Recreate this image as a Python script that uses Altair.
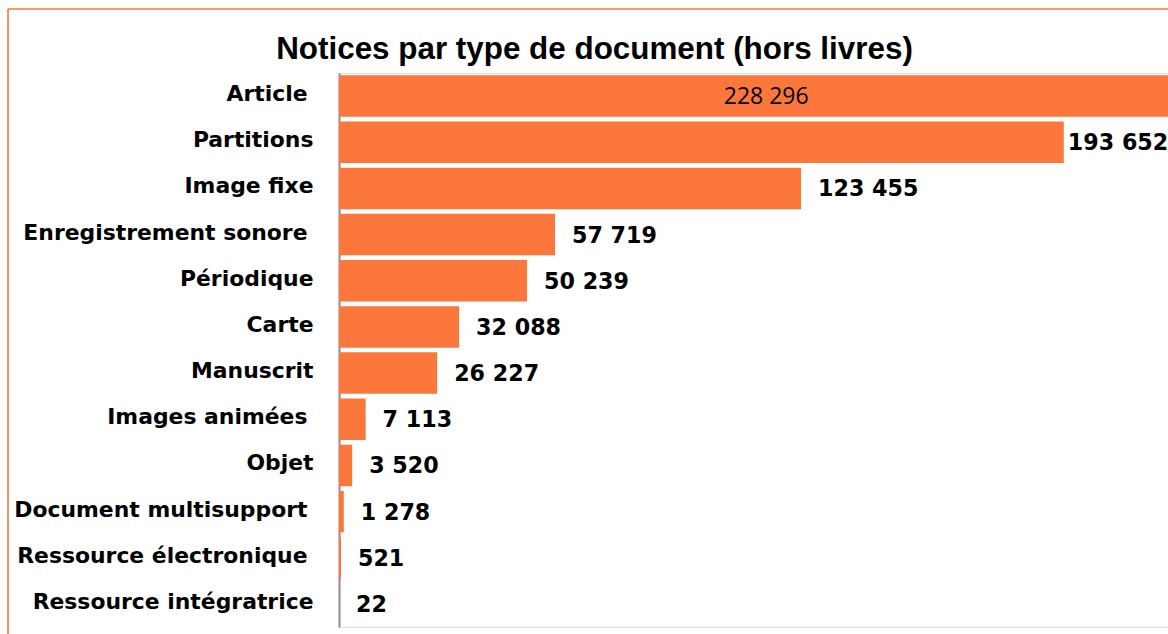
import altair as alt
import pandas as pd
import json

categories = [
    "Article",
    "Partitions",
    "Image fixe",
    "Enregistrement sonore",
    "Périodique",
    "Carte",
    "Manuscrit",
    "Images animées",
    "Objet",
    "Document multisupport",
    "Ressource électronique",
    "Ressource intégratrice",
]
values = [228296, 193652, 123455, 57719, 50239, 32088, 26227, 7113, 3520, 1278, 521, 22]
inside = [True, False, False, False, False, False, False, False, False, False, False, False]
# category labels that carry a trailing space in the source chart
trailing_space = ["Article", "Enregistrement sonore", "Images animées",
                  "Document multisupport", "Ressource électronique"]

df = pd.DataFrame({
    "type": categories,
    "value": values,
    "inside": inside,
    "label": [f"{v:,}".replace(",", " ") for v in values],
})

ORANGE = "#FC773C"
XMAX = 221500
LABEL_MAX = 190200  # outside labels are kept within the plot area (as Excel does)
W, H = 829, 554

pad_test = f"indexof({json.dumps(trailing_space, ensure_ascii=False)}, datum.value) >= 0"

base = alt.Chart(df)
y_enc = alt.Y(
    "type:N",
    sort=categories,
    scale=alt.Scale(paddingInner=0.1, paddingOuter=0.05),
    axis=alt.Axis(
        title=None,
        domainColor="#8c8c8c",
        domainWidth=2,
        ticks=False,
        labelFont="DejaVu Sans",
        labelFontWeight="bold",
        labelFontSize=21.9,
        labelColor="#000000",
        labelPadding=alt.condition(pad_test, alt.value(32), alt.value(26)),
        labelOffset=-2,
        labelLimit=400,
    ),
)
x_scale = alt.Scale(domain=[0, XMAX], nice=False, zero=True)

bars = base.mark_bar(color=ORANGE, clip=True).encode(
    x=alt.X("value:Q", scale=x_scale, axis=None),
    y=y_enc,
)

out_labels = base.transform_filter("!datum.inside").transform_calculate(
    pos=f"min(datum.value, {LABEL_MAX})"
).mark_text(
    align="left", baseline="middle", dx=17, dy=1,
    font="DejaVu Sans", fontWeight="bold", fontSize=22.2, color="#000000",
).encode(
    x=alt.X("pos:Q", scale=x_scale),
    y=alt.Y("type:N", sort=categories),
    text="label:N",
)

in_labels = base.transform_filter("datum.inside").transform_calculate(
    mid="datum.value / 2"
).mark_text(
    align="center", baseline="middle", dy=1,
    font="Open Sans", fontWeight="normal", fontSize=23, color="#000000",
).encode(
    x=alt.X("mid:Q", scale=x_scale),
    y=alt.Y("type:N", sort=categories),
    text="label:N",
)

frame_data = alt.Data(values=[{"a": 1}])
frame_left = alt.Chart(frame_data).mark_rule(color=ORANGE, strokeWidth=1.6).encode(
    x=alt.value(-331), y=alt.value(-64), y2=alt.value(H + 20)
)
frame_top = alt.Chart(frame_data).mark_rule(color=ORANGE, strokeWidth=1.6).encode(
    x=alt.value(-331), x2=alt.value(W + 20), y=alt.value(-64)
)

chart = alt.layer(bars, out_labels, in_labels, frame_left, frame_top).properties(
    width=W,
    height=H,
    padding={"left": 339, "top": 73, "right": 0, "bottom": 7},
    autosize=alt.AutoSizeParams(type="none"),
    title=alt.TitleParams(
        "Notices par type de document (hors livres)",
        font="Liberation Sans",
        fontWeight="bold",
        fontSize=31.4,
        color="#000000",
        anchor="middle",
        frame="group",
        baseline="alphabetic",
        dx=-159,
        offset=-82,
    ),
).configure_view(stroke=None).configure(background="white")

chart.save("out.html", embed_options={"renderer": "svg", "actions": False})
